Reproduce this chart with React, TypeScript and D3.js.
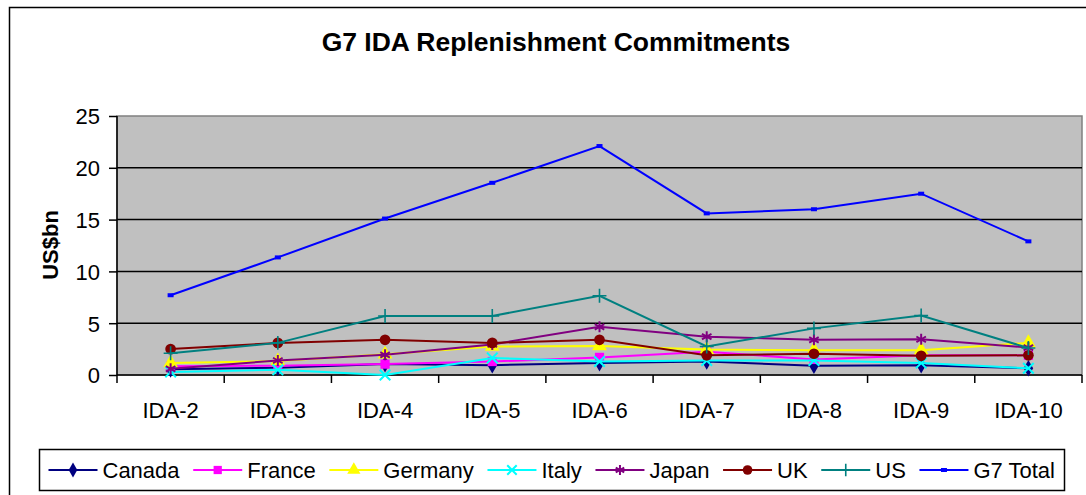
import { useEffect, useRef } from 'react';
import * as d3 from 'd3';

// IDA replenishment rounds
const rounds = ['IDA-2', 'IDA-3', 'IDA-4', 'IDA-5', 'IDA-6', 'IDA-7', 'IDA-8', 'IDA-9', 'IDA-10'];

// commitments in US$bn
const canada = [0.55, 0.7, 1.05, 0.95, 1.15, 1.3, 0.9, 0.95, 0.65];
const france = [0.85, 0.9, 1.05, 1.3, 1.7, 2.25, 1.5, 1.9, 1.9];
const germany = [1.15, 1.35, 2.0, 2.75, 2.8, 2.45, 2.4, 2.4, 3.1];
const italy = [0.3, 0.5, 0.0, 1.65, 1.3, 1.4, 1.4, 1.15, 0.65];
const japan = [0.6, 1.4, 1.95, 2.95, 4.65, 3.7, 3.4, 3.45, 2.65];
const uk = [2.5, 3.1, 3.4, 3.1, 3.4, 1.9, 2.05, 1.85, 1.9];
const us = [2.1, 3.1, 5.7, 5.7, 7.65, 2.75, 4.5, 5.75, 2.6];
const g7Total = [7.7, 11.35, 15.1, 18.55, 22.1, 15.6, 16.0, 17.5, 12.9];

const yTicks = [0, 5, 10, 15, 20, 25];

type Marker = 'diamond' | 'square' | 'triangle' | 'times' | 'asterisk' | 'circle' | 'plus' | 'dash';

const series: { name: string; values: number[]; color: string; marker: Marker }[] = [
    { name: 'Canada', values: canada, color: '#000080', marker: 'diamond' },
    { name: 'France', values: france, color: '#FF00FF', marker: 'square' },
    { name: 'Germany', values: germany, color: '#FFFF00', marker: 'triangle' },
    { name: 'Italy', values: italy, color: '#00FFFF', marker: 'times' },
    { name: 'Japan', values: japan, color: '#800080', marker: 'asterisk' },
    { name: 'UK', values: uk, color: '#800000', marker: 'circle' },
    { name: 'US', values: us, color: '#008080', marker: 'plus' },
    { name: 'G7 Total', values: g7Total, color: '#0000FF', marker: 'dash' },
];

const FONT = 'Arial, "Liberation Sans", sans-serif';

function drawMarker(g: d3.Selection<SVGGElement, unknown, null, undefined>, marker: Marker, color: string, legend = false) {
    const k = legend ? 0.8 : 1;
    if (marker === 'dash') {
        g.append('rect').attr('x', -3).attr('y', -2).attr('width', 6).attr('height', 4).attr('fill', color);
        return;
    }
    const types: Record<string, d3.SymbolType> = {
        diamond: d3.symbolDiamond,
        square: d3.symbolSquare,
        triangle: d3.symbolTriangle,
        circle: d3.symbolCircle,
        times: d3.symbolTimes,
        asterisk: d3.symbolAsterisk,
        plus: d3.symbolPlus,
    };
    const sizes: Record<string, number> = {
        diamond: 80, square: 85, triangle: 95, circle: 90, times: 75, asterisk: 85, plus: 65,
    };
    const stroked = marker === 'times' || marker === 'asterisk' || marker === 'plus';
    const p = g.append('path').attr('d', d3.symbol().type(types[marker]).size(sizes[marker] * k)());
    if (stroked) {
        p.attr('fill', 'none').attr('stroke', color).attr('stroke-width', marker === 'plus' ? 1.6 : 2);
    } else {
        p.attr('fill', color);
    }
}

export default function App() {
    const svgRef = useRef<SVGSVGElement>(null);

    useEffect(() => {
        const width = 1086;
        const height = 495;
        const svg = d3.select(svgRef.current).attr('width', width).attr('height', height);
        svg.selectAll('*').remove();

        const left = 117, right = 1082, top = 116, bottom = 375;

        const x = d3.scaleBand().domain(rounds).range([left, right]).padding(0);
        const y = d3.scaleLinear().domain([0, 25]).range([bottom, top]);

        // white background + chart frame
        svg.append('rect').attr('width', width).attr('height', height).attr('fill', 'white');
        svg.append('rect')
            .attr('x', 9.5).attr('y', 7.5).attr('width', 1100).attr('height', 600)
            .attr('fill', 'none').attr('stroke', 'black').attr('stroke-width', 1.5);

        // Title
        svg.append('text')
            .attr('x', 556).attr('y', 51)
            .attr('text-anchor', 'middle')
            .style('font-family', FONT).style('font-weight', 'bold').style('font-size', '26.5px')
            .text('G7 IDA Replenishment Commitments');

        // Plot area
        svg.append('rect')
            .attr('x', left).attr('y', top).attr('width', right - left).attr('height', bottom - top)
            .attr('fill', '#C0C0C0').attr('stroke', '#808080').attr('stroke-width', 1.5);

        // grid lines
        svg.append('g')
            .selectAll('line')
            .data(yTicks.filter((t) => t > 0 && t < 25))
            .enter()
            .append('line')
            .attr('x1', left).attr('x2', right)
            .attr('y1', (d) => y(d)).attr('y2', (d) => y(d))
            .attr('stroke', 'black').attr('stroke-width', 1.5);

        // y axis
        const yAxis = svg.append('g')
            .attr('transform', `translate(${left},0)`)
            .call(d3.axisLeft(y).tickValues(yTicks).tickSize(8).tickPadding(9));
        yAxis.select('.domain').remove();
        yAxis.selectAll('line').attr('stroke', 'black').attr('stroke-width', 1.5);
        yAxis.selectAll('text')
            .style('font-family', FONT).style('font-size', '22px').attr('fill', 'black').attr('dy', '0.36em');
        svg.append('line')
            .attr('x1', left).attr('x2', left).attr('y1', top).attr('y2', bottom)
            .attr('stroke', 'black').attr('stroke-width', 1.5);

        // y label
        svg.append('text')
            .attr('transform', `translate(58,245) rotate(-90)`)
            .attr('text-anchor', 'middle')
            .style('font-family', FONT).style('font-weight', 'bold').style('font-size', '22px')
            .text('US$bn');

        // x axis
        svg.append('line')
            .attr('x1', left).attr('x2', right).attr('y1', bottom).attr('y2', bottom)
            .attr('stroke', 'black').attr('stroke-width', 1.5);
        const bounds = rounds.map((r) => x(r) as number).concat([right]);
        svg.append('g')
            .selectAll('line')
            .data(bounds)
            .enter()
            .append('line')
            .attr('x1', (d) => d).attr('x2', (d) => d)
            .attr('y1', bottom).attr('y2', bottom + 8)
            .attr('stroke', 'black').attr('stroke-width', 1.5);
        svg.append('g')
            .selectAll('text')
            .data(rounds)
            .enter()
            .append('text')
            .attr('x', (d) => (x(d) as number) + x.bandwidth() / 2)
            .attr('y', 418)
            .attr('text-anchor', 'middle')
            .style('font-family', FONT).style('font-size', '22px')
            .text((d) => d);

        // series
        const cx = (i: number) => (x(rounds[i]) as number) + x.bandwidth() / 2;
        const line = d3.line<number>().x((_, i) => cx(i)).y((d) => y(d));

        series.forEach((s) => {
            const g = svg.append('g');
            g.append('path')
                .attr('d', line(s.values))
                .attr('fill', 'none')
                .attr('stroke', s.color)
                .attr('stroke-width', 2);
            s.values.forEach((v, i) => {
                const m = g.append('g').attr('transform', `translate(${cx(i)},${y(v)})`);
                drawMarker(m, s.marker, s.color);
            });
        });

        // Legend
        svg.append('rect')
            .attr('x', 39.5).attr('y', 449.5).attr('width', 1025).attr('height', 41)
            .attr('fill', 'white').attr('stroke', 'black').attr('stroke-width', 1.5);

        const lg = svg.append('g');
        const items = series.map((s) => {
            const g = lg.append('g');
            g.append('line')
                .attr('x1', 0).attr('x2', 49).attr('y1', 0).attr('y2', 0)
                .attr('stroke', s.color).attr('stroke-width', 2);
            const mk = g.append('g').attr('transform', 'translate(24.5,0)');
            drawMarker(mk, s.marker, s.color, true);
            const t = g.append('text')
                .attr('x', 54).attr('y', 8)
                .style('font-family', FONT).style('font-size', '22px')
                .text(s.name);
            const w = (t.node() as SVGTextElement).getComputedTextLength();
            return { g, w: 54 + w };
        });
        const startX = 48.5, endX = 1055;
        const totalW = d3.sum(items, (d) => d.w);
        const gap = (endX - startX - totalW) / (items.length - 1);
        let cur = startX;
        items.forEach((it) => {
            it.g.attr('transform', `translate(${cur},470)`);
            cur += it.w + gap;
        });
    }, []);

    return (
        <div style={{ position: 'absolute', left: 0, top: 0 }}>
            <svg ref={svgRef}></svg>
        </div>
    );
}
